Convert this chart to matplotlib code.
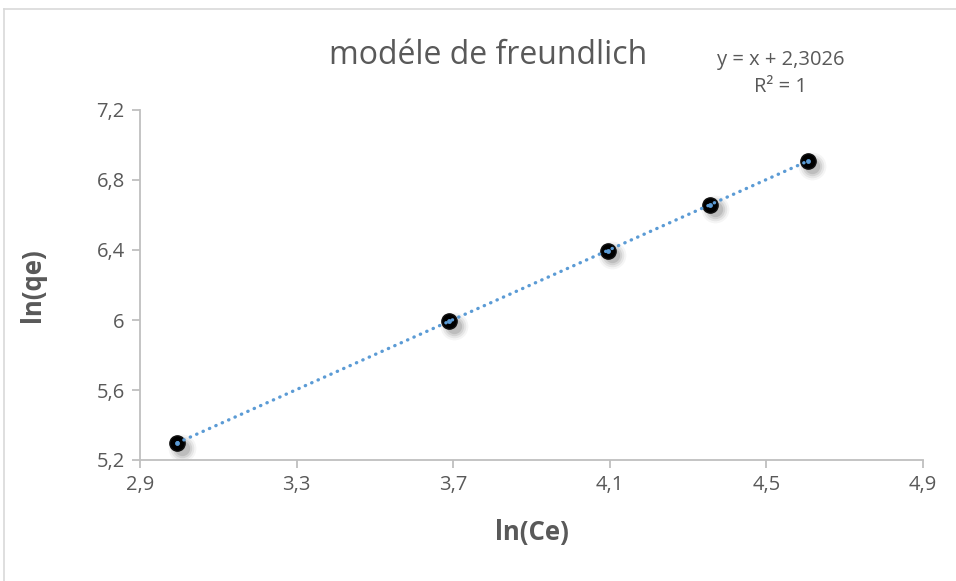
import matplotlib.pyplot as plt
import matplotlib.transforms as mtransforms
from matplotlib.lines import Line2D
import numpy as np

# ln(Ce) and ln(qe) for the five concentrations
ln_ce = [2.9957, 3.6889, 4.0943, 4.3567, 4.6052]
ln_qe = [5.2983, 5.9915, 6.3969, 6.6593, 6.9078]

x_ticks = [2.9, 3.3, 3.7, 4.1, 4.5, 4.9]
y_ticks = [5.2, 5.6, 6.0, 6.4, 6.8, 7.2]

slope, intercept = 1.0, 2.3026

plt.rcParams['font.family'] = ['Open Sans', 'DejaVu Sans']
grey = '#595959'
axis_grey = '#bfbfbf'

fig = plt.figure(figsize=(9.56, 5.81), dpi=100)
ax = fig.add_axes([140 / 956, 1 - 460 / 581, 783 / 956, 350 / 581])

# chart area frame (top and left edges visible)
fig.add_artist(Line2D([4 / 956, 1.0], [1 - 9 / 581, 1 - 9 / 581],
                      transform=fig.transFigure, color='#d9d9d9', lw=1.2))
fig.add_artist(Line2D([4 / 956, 4 / 956], [0.0, 1 - 9 / 581],
                      transform=fig.transFigure, color='#d9d9d9', lw=1.2))

# linear trendline
xs = np.array([ln_ce[0], ln_ce[-1]])
ax.plot(xs, slope * xs + intercept, color='#5b9bd5', lw=2.4,
        linestyle=(0, (0.1, 2.0)), dash_capstyle='round', zorder=4)

# soft drop shadow under markers
for sz, a in [(20, 0.04), (17, 0.06), (14, 0.08), (11, 0.10)]:
    tr = mtransforms.offset_copy(ax.transData, fig=fig, x=3.5, y=-3.5, units='points')
    ax.plot(ln_ce, ln_qe, 'o', ms=sz, color='black', alpha=a, mec='none',
            transform=tr, zorder=2)

ax.plot(ln_ce, ln_qe, 'o', ms=11, color='black', mec='#111111', zorder=3)
ax.plot(ln_ce, ln_qe, 'o', ms=3.5, color='#5b9bd5', mec='none', zorder=5)

ax.set_xlim(2.9, 4.9)
ax.set_ylim(5.2, 7.2)
ax.set_xticks(x_ticks)
ax.set_yticks(y_ticks)
fmt = lambda v: ('%g' % v).replace('.', ',')
ax.set_xticklabels([fmt(v) for v in x_ticks])
ax.set_yticklabels([fmt(v) for v in y_ticks])

for s in ['top', 'right']:
    ax.spines[s].set_visible(False)
for s in ['left', 'bottom']:
    ax.spines[s].set_color(axis_grey)
    ax.spines[s].set_linewidth(1.3)
ax.tick_params(direction='out', length=6, width=1.3, color=axis_grey,
               labelcolor=grey, labelsize=14.5, pad=5)

ax.set_xlabel('ln(Ce)', fontsize=18.5, fontweight='bold', color=grey, labelpad=17)
ax.set_ylabel('ln(qe)', fontsize=18.5, fontweight='bold', color=grey, labelpad=36)

fig.text(488 / 956, 1 - 55 / 581, 'modéle de freundlich', fontsize=23,
         color=grey, ha='center', va='center')
fig.text(781 / 956, 1 - 60 / 581, 'y = x + 2,3026', fontsize=14.5,
         color=grey, ha='center', va='center')
fig.text(781 / 956, 1 - 87 / 581, 'R² = 1', fontsize=14.5,
         color=grey, ha='center', va='center')

fig.savefig('out.png', dpi=100, facecolor='white')
